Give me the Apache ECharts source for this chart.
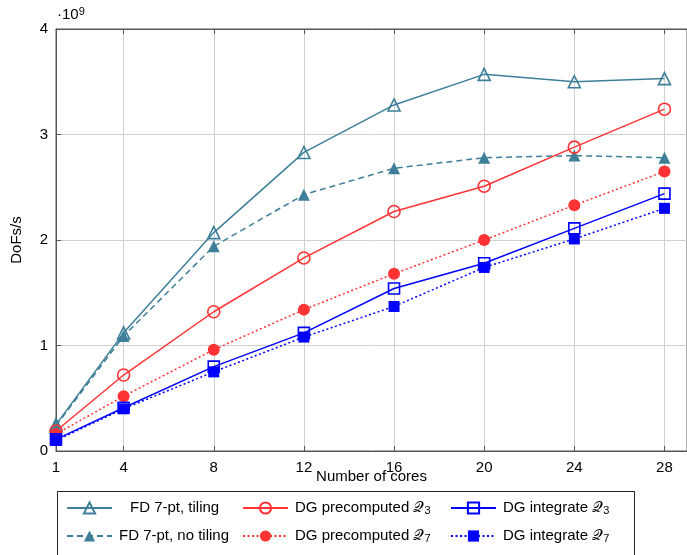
<!DOCTYPE html>
<html>
<head>
<meta charset="utf-8">
<script src="https://cdn.jsdelivr.net/npm/echarts@6/dist/echarts.min.js"></script>
<style>
  html, body { margin: 0; padding: 0; background: #fff; }
  #chart { width: 687px; height: 555px; }
</style>
</head>
<body>
<div id="chart"></div>
<script>
// cores on x, DoFs/s in units of 1e9 on y
const cores = [1, 4, 8, 12, 16, 20, 24, 28];
const fdTiling = [0.25, 1.12, 2.07, 2.83, 3.28, 3.57, 3.50, 3.53];
const fdNoTiling = [0.24, 1.09, 1.94, 2.43, 2.68, 2.78, 2.80, 2.78];
const dgPreQ3 = [0.19, 0.72, 1.32, 1.83, 2.27, 2.51, 2.88, 3.24];
const dgPreQ7 = [0.16, 0.52, 0.96, 1.34, 1.68, 2.00, 2.33, 2.65];
const dgIntQ3 = [0.11, 0.41, 0.80, 1.12, 1.54, 1.78, 2.11, 2.44];
const dgIntQ7 = [0.10, 0.40, 0.75, 1.08, 1.37, 1.74, 2.01, 2.30];
const yTicks = [0, 1, 2, 3, 4];

const teal = '#3d7f99';
const red = '#ff3333';
const blue = '#0000ff';
const FONT = 'Liberation Sans, Arial, sans-serif';

function pairs(vals) {
  return cores.map((c, i) => [c, vals[i]]);
}

function makeSeries(name, vals, color, symbol, filled, lineType) {
  const size = symbol === 'rect' ? 11 : 12;
  return {
    name: name,
    type: 'line',
    data: pairs(vals),
    symbol: symbol,
    symbolSize: size,
    showAllSymbol: true,
    lineStyle: { color: color, width: 1.5, type: lineType },
    itemStyle: {
      color: filled ? color : 'rgba(255,255,255,0)',
      borderColor: color,
      borderWidth: filled ? 0 : 1.6
    },
    emphasis: { disabled: true },
    animation: false
  };
}

const names = [
  'FD 7-pt, tiling', 'FD 7-pt, no tiling',
  'DG precomputed Q3', 'DG precomputed Q7',
  'DG integrate Q3', 'DG integrate Q7'
];

function legendLabel(name) {
  const m = name.match(/^(.*) Q(\d)$/);
  if (m) return m[1] + ' {q|\u{1D4AC}}{s|' + m[2] + '}';
  return name;
}

const legendText = {
  fontFamily: FONT, fontSize: 15, color: '#000', lineHeight: 16,
  rich: {
    q: { fontFamily: FONT, fontSize: 15, color: '#000' },
    s: { fontFamily: FONT, fontSize: 11, color: '#000', verticalAlign: 'bottom', padding: [8, 0, 0, 0] }
  }
};

// position of each legend entry: [left, top, text padding-left]
const legendPos = [
  [66, 500, 13], [66, 528, 2],
  [242, 500, 2], [242, 528, 2],
  [450, 500, 2], [450, 528, 2]
];

const legends = names.map((n, i) => ({
  data: [n],
  left: legendPos[i][0],
  top: legendPos[i][1],
  padding: 0,
  itemWidth: 45,
  itemHeight: 14,
  selectedMode: false,
  formatter: legendLabel,
  textStyle: Object.assign({}, legendText, { padding: [0, 0, 0, legendPos[i][2]] })
}));

const chart = echarts.init(document.getElementById('chart'));
chart.setOption({
  animation: false,
  grid: {
    left: 56, top: 29, right: -2, bottom: 104,
    show: true, borderColor: '#555', borderWidth: 1
  },
  legend: legends,
  xAxis: [{
    type: 'value',
    min: 1, max: 29,
    name: 'Number of cores',
    nameLocation: 'middle',
    nameGap: 18,
    nameMoveOverlap: false,
    nameTextStyle: { fontFamily: FONT, fontSize: 15, color: '#000' },
    axisLine: { lineStyle: { color: '#555' } },
    axisTick: { inside: true, length: 5, lineStyle: { color: '#555' }, customValues: cores },
    axisLabel: { customValues: cores, fontFamily: FONT, fontSize: 15, color: '#000', margin: 9 },
    splitLine: { show: true, lineStyle: { color: '#d0d0d0' } },
    customValues: cores
  }, {
    type: 'value',
    position: 'top',
    min: 1, max: 29,
    axisLine: { show: true, lineStyle: { color: '#555' } },
    axisTick: { inside: true, length: 5, lineStyle: { color: '#555' }, customValues: cores },
    axisLabel: { show: false },
    splitLine: { show: false }
  }],
  yAxis: {
    type: 'value',
    min: 0, max: 4, interval: 1,
    name: 'DoFs/s',
    nameLocation: 'middle',
    nameRotate: 90,
    nameGap: 32,
    nameMoveOverlap: false,
    nameTextStyle: { fontFamily: FONT, fontSize: 15, color: '#000' },
    axisLine: { show: true, lineStyle: { color: '#555' } },
    axisTick: { inside: true, length: 5, lineStyle: { color: '#555' } },
    axisLabel: {
      fontFamily: FONT, fontSize: 15, color: '#000', margin: 8,
      formatter: v => yTicks.includes(v) ? String(v) : ''
    },
    splitLine: { show: true, lineStyle: { color: '#d0d0d0' } }
  },
  graphic: [{
    type: 'rect',
    shape: { x: 57.5, y: 491.5, width: 577, height: 80 },
    style: { fill: 'none', stroke: '#222', lineWidth: 1 },
    silent: true
  }, {
    type: 'text',
    left: 57, top: 6,
    style: {
      text: '\u00b710{sup|9}',
      fontFamily: FONT, fontSize: 15, fill: '#000',
      rich: { sup: { fontFamily: FONT, fontSize: 11, fill: '#000', verticalAlign: 'top', padding: [0, 0, 6, 0] } }
    }
  }],
  series: [
    makeSeries(names[0], fdTiling, teal, 'triangle', false, 'solid'),
    makeSeries(names[1], fdNoTiling, teal, 'triangle', true, [6, 4]),
    makeSeries(names[2], dgPreQ3, red, 'circle', false, 'solid'),
    makeSeries(names[3], dgPreQ7, red, 'circle', true, [2, 2.5]),
    makeSeries(names[4], dgIntQ3, blue, 'rect', false, 'solid'),
    makeSeries(names[5], dgIntQ7, blue, 'rect', true, [2, 2.5])
  ]
});
</script>
</body>
</html>
